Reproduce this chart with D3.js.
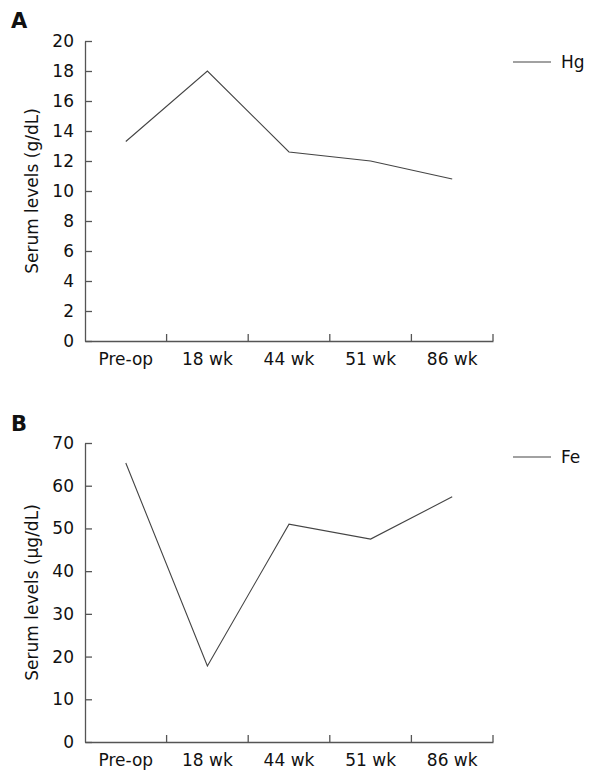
<!DOCTYPE html>
<html>
<head>
<meta charset="utf-8">
<script src="https://cdn.jsdelivr.net/npm/d3@7"></script>
<style>
  html, body { margin: 0; padding: 0; background: #fff; }
  svg { display: block; font-family: "DejaVu Sans", Verdana, sans-serif; }
</style>
</head>
<body>
<svg id="chart" width="590" height="776"></svg>
<script>
const categories = ["Pre-op", "18 wk", "44 wk", "51 wk", "86 wk"];
const hgValues = [13.3, 18.0, 12.6, 12.0, 10.8];
const feValues = [65.3, 17.8, 51.0, 47.5, 57.4];
const hgTicks = [0, 2, 4, 6, 8, 10, 12, 14, 16, 18, 20];
const feTicks = [0, 10, 20, 30, 40, 50, 60, 70];

const svg = d3.select("#chart");
const axisColor = "#555";
const lineColor = "#444";
const fs = 17;

const panels = [
  { letter: "A", letterY: 28, values: hgValues, ticks: hgTicks, max: 20,
    top: 41, bottom: 341, title: "Serum levels (g/dL)", legend: "Hg", legendY: 62 },
  { letter: "B", letterY: 431, values: feValues, ticks: feTicks, max: 70,
    top: 443, bottom: 742, title: "Serum levels (\u03bcg/dL)", legend: "Fe", legendY: 457 }
];

const left = 85, right = 493;

panels.forEach(p => {
  const g = svg.append("g");
  const x = d3.scaleBand().domain(categories).range([left, right]).padding(0);
  const y = d3.scaleLinear().domain([0, p.max]).range([p.bottom, p.top]);

  // panel letter
  g.append("text").attr("x", 11).attr("y", p.letterY)
    .attr("font-size", 21).attr("font-weight", "bold").attr("fill", "#111")
    .text(p.letter);

  // y axis
  const yAxis = g.append("g").attr("transform", `translate(${left},0)`)
    .call(d3.axisLeft(y).tickValues(p.ticks).tickSizeInner(-7).tickSizeOuter(0).tickPadding(11));
  yAxis.select(".domain").attr("stroke", axisColor).attr("stroke-width", 1.3);
  yAxis.selectAll(".tick line").attr("stroke", axisColor).attr("stroke-width", 1.3);
  yAxis.selectAll(".tick text").attr("font-size", fs).attr("fill", "#111")
    .attr("font-family", "DejaVu Sans, sans-serif");

  // x axis
  const xAxis = g.append("g").attr("transform", `translate(0,${p.bottom})`)
    .call(d3.axisBottom(x).tickSize(0).tickPadding(12));
  xAxis.select(".domain").attr("stroke", axisColor).attr("stroke-width", 1.3);
  xAxis.selectAll(".tick text").attr("font-size", fs).attr("fill", "#111")
    .attr("font-family", "DejaVu Sans, sans-serif");
  // band boundary ticks (pointing up)
  const bounds = categories.map(c => x(c) + x.bandwidth()).filter(v => v > left);
  g.selectAll(".btick").data(bounds).enter().append("line")
    .attr("x1", d => d).attr("x2", d => d)
    .attr("y1", p.bottom).attr("y2", p.bottom - 7)
    .attr("stroke", axisColor).attr("stroke-width", 1.3);

  // y axis title
  g.append("text")
    .attr("transform", `translate(38,${(p.top + p.bottom) / 2}) rotate(-90)`)
    .attr("text-anchor", "middle").attr("font-size", fs).attr("fill", "#111")
    .text(p.title);

  // line
  const line = d3.line()
    .x((d, i) => x(categories[i]) + x.bandwidth() / 2)
    .y(d => y(d));
  g.append("path").datum(p.values)
    .attr("d", line).attr("fill", "none")
    .attr("stroke", lineColor).attr("stroke-width", 1.1);

  // legend
  g.append("line").attr("x1", 513).attr("x2", 551)
    .attr("y1", p.legendY).attr("y2", p.legendY)
    .attr("stroke", lineColor).attr("stroke-width", 1.1);
  g.append("text").attr("x", 561).attr("y", p.legendY + 6)
    .attr("font-size", fs).attr("fill", "#111").text(p.legend);
});
</script>
</body>
</html>
